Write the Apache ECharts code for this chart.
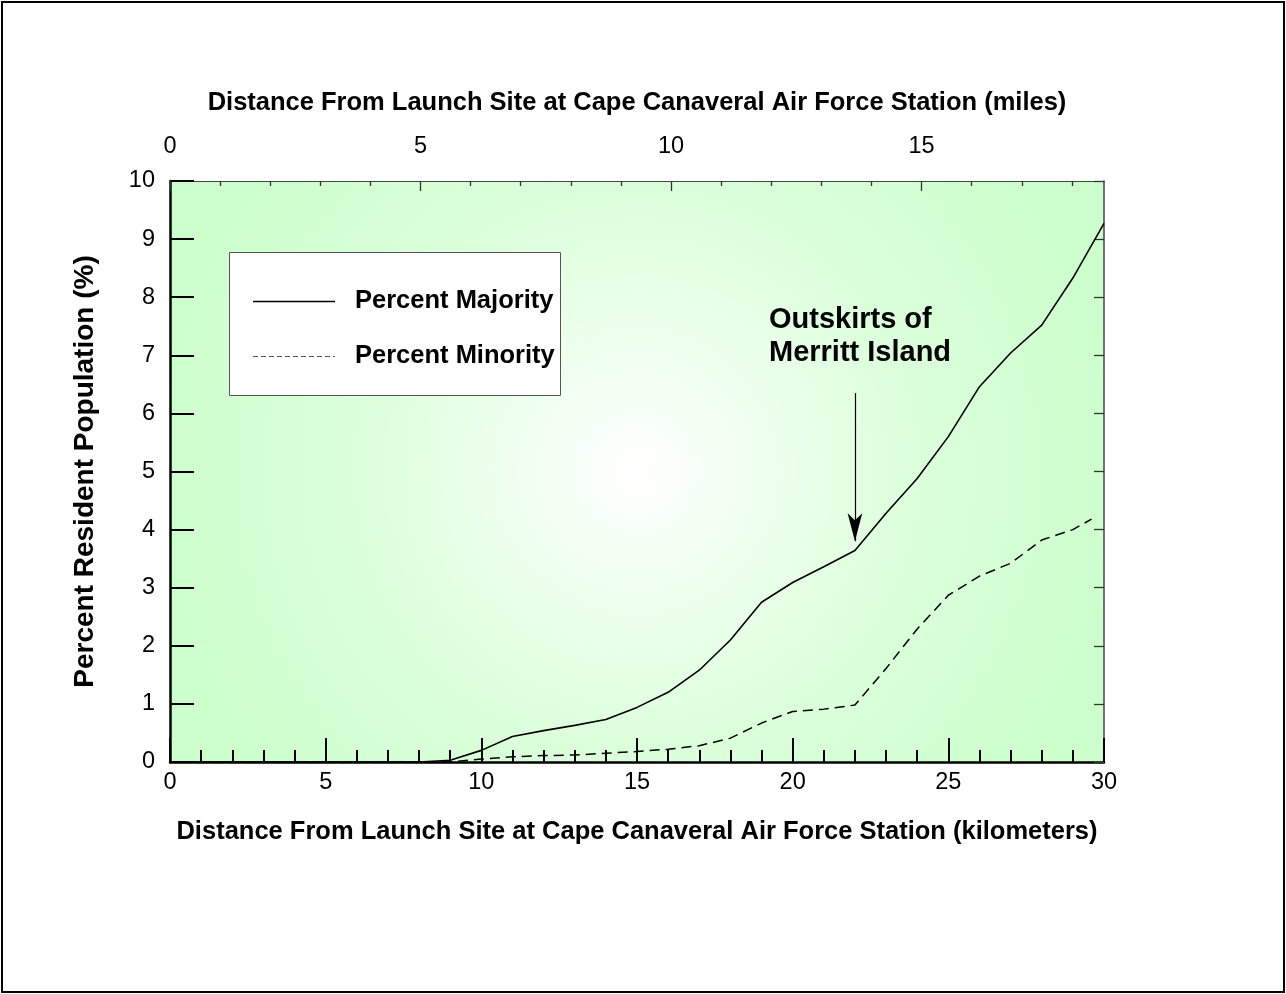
<!DOCTYPE html>
<html>
<head>
<meta charset="utf-8">
<script src="https://cdn.jsdelivr.net/npm/echarts@6/dist/echarts.min.js"></script>
<style>
html,body{margin:0;padding:0;background:#fff;}
#chart{width:1286px;height:994px;}
</style>
</head>
<body>
<div id="chart"></div>
<script>
// Data (km distance vs percent of resident population)
const kmMajority = [0,1,2,3,4,5,6,7,8,9,10,11,12,13,14,15,16,17,18,19,20,21,22,23,24,25,26,27,28,29,30];
const majority   = [0,0,0,0,0,0,0,0,0,0.03,0.2,0.44,0.54,0.63,0.73,0.94,1.2,1.58,2.1,2.75,3.09,3.36,3.64,4.28,4.88,5.6,6.46,7.04,7.52,8.33,9.27];
const kmMinority = [0,1,2,3,4,5,6,7,8,9,10,11,12,13,14,15,16,17,18,19,20,21,22,23,24,25,26,27,28,29,29.6];
const minority   = [0,0,0,0,0,0,0,0,0,0,0.05,0.09,0.11,0.12,0.15,0.18,0.22,0.28,0.41,0.67,0.87,0.91,0.98,1.61,2.29,2.87,3.2,3.42,3.82,4.0,4.18];
const mileMajorTicks = [0,5,10,15];
const mileMinorTicks = [1,2,3,4,6,7,8,9,11,12,13,14,16,17,18];
const KM_PER_MILE = 1.609344;
const xMaxKm = 30;
const annotationKm = 22;
const arrowFrom = 6.35, arrowTo = 3.8;
const seriesNames = ['Percent Majority','Percent Minority'];
const annotationText = 'Outskirts of\nMerritt Island';
const titleBottom = 'Distance From Launch Site at Cape Canaveral Air Force Station (kilometers)';
const titleTop = 'Distance From Launch Site at Cape Canaveral Air Force Station (miles)';
const titleY = 'Percent Resident Population (%)';

const FONT = '"Liberation Sans", Arial, sans-serif';
const chart = echarts.init(document.getElementById('chart'), null, {renderer:'canvas'});
const mileMax = xMaxKm / KM_PER_MILE;

const topAxisBase = {
  type:'value', position:'top', min:0, max:mileMax,
  axisLine:{show:true, onZero:false, lineStyle:{color:'#444', width:1.2}},
  splitLine:{show:false}
};

const option = {
  backgroundColor:'#fff',
  animation:false,
  grid:{left:170, right:182, top:181, bottom:232, show:true, borderWidth:0,
    backgroundColor:{type:'radial', x:0.5, y:0.5, r:0.85,
      colorStops:[{offset:0,color:'#ffffff'},{offset:0.12,color:'#f7fff7'},{offset:0.55,color:'#dcffdc'},{offset:1,color:'#ccffcc'}]}},
  xAxis:[
    {type:'value', position:'bottom', min:0, max:xMaxKm, interval:5,
      name:titleBottom, nameLocation:'middle', nameGap:57,
      nameTextStyle:{fontFamily:FONT, fontSize:25.5, fontWeight:'bold', color:'#000'},
      axisLine:{show:true, onZero:false, lineStyle:{color:'#000', width:2.5}},
      axisTick:{show:true, inside:true, length:24, lineStyle:{color:'#000', width:2}},
      minorTick:{show:true, splitNumber:5, length:12, lineStyle:{color:'#000', width:2}},
      axisLabel:{fontFamily:FONT, fontSize:23.5, color:'#000', margin:9},
      splitLine:{show:false}},
    Object.assign({}, topAxisBase, {
      name:titleTop, nameLocation:'middle', nameGap:65,
      nameTextStyle:{fontFamily:FONT, fontSize:25.5, fontWeight:'bold', color:'#000'},
      axisTick:{show:true, inside:true, length:10, customValues:mileMajorTicks, lineStyle:{color:'#333', width:1.3}},
      axisLabel:{show:true, customValues:mileMajorTicks, fontFamily:FONT, fontSize:23.5, color:'#000', margin:22}
    }),
    Object.assign({}, topAxisBase, {
      axisTick:{show:true, inside:true, length:5, customValues:mileMinorTicks, lineStyle:{color:'#333', width:1.3}},
      axisLabel:{show:false}
    })
  ],
  yAxis:[
    {type:'value', position:'left', min:0, max:10, interval:1,
      name:titleY, nameLocation:'middle', nameGap:71, nameRotate:90,
      nameTextStyle:{fontFamily:FONT, fontSize:28, fontWeight:'bold', color:'#000'},
      axisLine:{show:true, onZero:false, lineStyle:{color:'#000', width:2.5}},
      axisTick:{show:true, inside:true, length:24, lineStyle:{color:'#000', width:2}},
      axisLabel:{fontFamily:FONT, fontSize:23.5, color:'#000', margin:15},
      splitLine:{show:false}},
    {type:'value', position:'right', min:0, max:10, interval:1,
      axisLine:{show:true, onZero:false, lineStyle:{color:'#444', width:1.5}},
      axisTick:{show:true, inside:true, length:10, lineStyle:{color:'#333', width:1.3}},
      axisLabel:{show:false}, splitLine:{show:false}}
  ],
  graphic:[
    {type:'rect', shape:{x:2, y:2, width:1282, height:990}, style:{fill:'none', stroke:'#000', lineWidth:2}, z:-1},
    {type:'group', z:5, children:[
      {type:'rect', shape:{x:229.5, y:252.5, width:331, height:143}, style:{fill:'#fff', stroke:'#555', lineWidth:1}},
      {type:'line', shape:{x1:253, y1:301.5, x2:335, y2:301.5}, style:{stroke:'#000', lineWidth:1.3}},
      {type:'line', shape:{x1:253, y1:356.5, x2:335, y2:356.5}, style:{stroke:'#555', lineWidth:1.2, lineDash:[5,3]}},
      {type:'text', x:355, y:301, style:{text:seriesNames[0], font:'bold 25.5px "Liberation Sans", Arial, sans-serif', fill:'#000', verticalAlign:'middle'}},
      {type:'text', x:355, y:356, style:{text:seriesNames[1], font:'bold 25.5px "Liberation Sans", Arial, sans-serif', fill:'#000', verticalAlign:'middle'}}
    ]},
    {type:'text', left:769, top:303, z:10,
      style:{text:annotationText, font:'bold 29px "Liberation Sans", Arial, sans-serif', fill:'#000', lineHeight:33}}
  ],
  series:[
    {name:seriesNames[0], type:'line', xAxisIndex:0, yAxisIndex:0, symbol:'none', z:3,
      data:kmMajority.map((k,i)=>[k, majority[i]]),
      lineStyle:{color:'#000', width:1.6},
      itemStyle:{color:'#000'},
      markLine:{silent:true, symbol:['none','arrow'], symbolSize:[11,28],
        lineStyle:{color:'#000', width:1.2, type:'solid'}, label:{show:false},
        data:[[{coord:[annotationKm, arrowFrom]},{coord:[annotationKm, arrowTo]}]]}
    },
    {name:seriesNames[1], type:'line', xAxisIndex:0, yAxisIndex:0, symbol:'none', z:3,
      data:kmMinority.map((k,i)=>[k, minority[i]]),
      lineStyle:{color:'#000', width:1.5, type:[10,6]},
      itemStyle:{color:'#000'}
    }
  ]
};
chart.setOption(option);
</script>
</body>
</html>
